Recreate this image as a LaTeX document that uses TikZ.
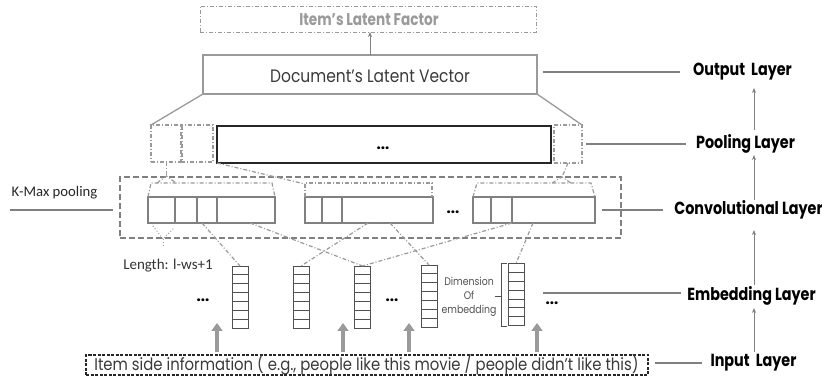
\documentclass[tikz,border=0pt]{standalone}
\usepackage{fontspec}
\setmainfont{Poppins}
\newfontfamily\calib{Carlito}
\usetikzlibrary{arrows.meta,calc}
\definecolor{lgray}{HTML}{9A9A9A}
\definecolor{mgray}{HTML}{808080}
\definecolor{dgray}{HTML}{505050}
\definecolor{tgray}{HTML}{3A3A3A}
\tikzset{
  box/.style={draw, inner sep=0pt, outer sep=0pt},
  dashdot/.style={draw=lgray, line width=1.2pt, dash pattern=on 4pt off 2pt on 1pt off 2pt},
  convline/.style={draw=mgray, line width=1.1pt},
  layerlab/.style={font=\bfseries\fontsize{17.5}{17.5}\selectfont, text=black, inner sep=1pt},
  lline/.style={draw=mgray, line width=1.3pt},
  vup/.style={draw=mgray, line width=1pt, -{Stealth[length=5pt,width=4pt]}},
  fatup/.style={draw=lgray, line width=4.5pt, -{Triangle[length=8pt,width=11pt]}},
  embcol/.style={box, draw=dgray, line width=0.8pt, minimum width=16pt, minimum height=62pt},
  dotsq/.style={font=\bfseries\fontsize{15}{15}\selectfont, inner sep=0pt},
}
\newcommand{\sq}[2]{\scalebox{#1}[1]{#2}}
\begin{document}
\begin{tikzpicture}[x=1pt,y=-1pt]
\useasboundingbox (0,0) rectangle (822,379);

% top boxes
\node[box, draw=lgray, line width=0.9pt, dash pattern=on 4pt off 2pt on 1pt off 2pt,
      minimum width=336pt, minimum height=26pt] (item) at (368,19) {};
\node[font=\bfseries\fontsize{17}{17}\selectfont, text=lgray] (itemt) at (369,20) {\sq{0.8}{Item's Latent Factor}};
\node[box, draw=lgray, line width=1.6pt, minimum width=334pt, minimum height=39pt] (doc) at (370,74.5) {};
\node[font=\fontsize{18}{18}\selectfont, text=tgray] (doct) at (370,76) {\sq{0.86}{Document's Latent Vector}};
\draw[vup] (doc.north) -- (doc.north |- item.south);

% pooling layer
\node[box, dashdot, minimum width=31pt, minimum height=37pt] (pA) at (166.5,143.5) {};
\node[box, dashdot, minimum width=32pt, minimum height=37pt] (pB) at (197,143.5) {};
\node[box, draw=black!85, line width=2pt, minimum width=334pt, minimum height=37pt] (bb) at (384,144.5) {};
\node[dotsq] (bbd) at (383,148) {...};
\node[box, dashdot, minimum width=28pt, minimum height=38pt] (pC) at (568,144) {};
\draw[lline, draw=lgray] (doc.south west) -- (pA.north west);
\draw[lline, draw=lgray] (doc.south east) -- (pC.north east);

% convolutional layer
\node[box, draw=mgray, line width=1.6pt, dash pattern=on 6pt off 3pt,
      minimum width=501pt, minimum height=61pt] (conv) at (370.5,207.5) {};
\node[box, convline, minimum width=127pt, minimum height=26pt] (fm1) at (211.5,210) {};
\node[box, convline, minimum width=128pt, minimum height=26pt] (fm2) at (369,210) {};
\node[box, convline, minimum width=122pt, minimum height=26pt] (fm3) at (534,210) {};
\foreach \x in {175,197,217} \draw[convline] (\x,197) -- (\x,223);
\foreach \x in {322,342} \draw[convline] (\x,197) -- (\x,223);
\foreach \x in {491,512} \draw[convline] (\x,197) -- (\x,223);
\node[dotsq] (cd) at (453,212) {...};

% pooling brackets
\draw[dashdot] (fm1.north west) -- (151,183) -- (272,183) -- (fm1.north east);
\draw[dashdot] (pA.south) -- (166.5,176);
\draw[dashdot] (157,183) -- (166.5,176) -- (176,183);
\draw[dashdot] (fm2.north west) -- (305,183) -- (432,183) -- (432,197);
\draw[dashdot] (bb.south west) -- (305,184);
\draw[dashdot] (fm3.north west) -- (477,183) -- (591,183) -- (fm3.north east);
\draw[dashdot] (pC.south) -- (562,177);
\draw[dashdot] (552,183) -- (562,177) -- (571,183);

% embedding columns
\foreach \n/\x/\y in {e1/240/297, e2/301/297, e3/362.5/297, e4/429/296, e5/516/294.5}{
  \node[embcol] (\n) at (\x,\y) {};
  \foreach \k in {1,...,6} \draw[draw=dgray, line width=0.8pt] ($(\n.north west)!\k/7!(\n.south west)$) -- ($(\n.north east)!\k/7!(\n.south east)$);
}
\draw[draw=dgray, line width=0.9pt] (507,263) -- (501,263) -- (501,326) -- (507,326);
\draw[draw=dgray, line width=0.9pt] (501,296) -- (495,296);
\node[font=\fontsize{11}{14}\selectfont, text=dgray, align=center, inner sep=0pt] (dimt) at (469,297) {\sq{0.85}{Dimension}\\\sq{0.85}{Of}\\\sq{0.85}{embedding}};

% convolution windows
\coordinate (s1) at (202,223);
\coordinate (s2) at (250,223);
\coordinate (s3) at (368,223);
\coordinate (s4) at (390,223);
\coordinate (s5) at (512,223);
\coordinate (s6) at (533,223);
\draw[dashdot] (s1) -- (e1.north);
\draw[dashdot] (s2) -- (e3.north);
\draw[dashdot] (s3) -- (e2.north);
\draw[dashdot] (s4) -- (e4.north);
\draw[dashdot] (s5) -- (e3.north);
\draw[dashdot] (s6) -- (e5.north);

% dots in embedding layer
\node[dotsq] (ed1) at (203,300) {...};
\node[dotsq] (ed2) at (392,300) {...};
\node[dotsq] (ed3) at (552,303) {...};

% side texts
\node[font=\calib\fontsize{14.7}{14.7}\selectfont, text=black!85] (kmax) at (54.5,193) {K-Max pooling};
\draw[lline] (10,210) -- (113,210);
\node[font=\calib\fontsize{15}{15}\selectfont, text=black!80] (len) at (168,266) {Length: l-ws+1};
\draw[draw=lgray, line width=1pt, dotted] (153,226) -- (163,239) -- (174,228);
\draw[draw=lgray, line width=1pt, dotted] (163,239) -- (163,248);

% input
\node[box, draw=black!85, line width=1.1pt, dash pattern=on 3pt off 1.5pt,
      minimum width=562pt, minimum height=20pt] (inp) at (367,365) {};
\node[font=\fontsize{17}{17}\selectfont, text=tgray] (inpt) at (366.5,364.5) {\sq{0.875}{Item side information ( e.g., people like this movie / people didn't like this)}};
\foreach \x in {217,343,409,537} \draw[fatup] (\x,352) -- (\x,323);

% layer labels
\node[layerlab] (lOut) at (742.5,72) {\sq{0.82}{Output\ \ Layer}};
\node[layerlab] (lPool) at (745.5,144) {\sq{0.82}{Pooling Layer}};
\node[layerlab] (lConv) at (748.5,210) {\sq{0.82}{Convolutional Layer}};
\node[layerlab] (lEmb) at (751.5,296) {\sq{0.82}{Embedding Layer}};
\node[layerlab] (lIn) at (753.5,363) {\sq{0.82}{Input\ \ Layer}};
\draw[lline] ([xshift=6pt]doc.east |- lOut.west) -- ([xshift=-12pt]lOut.west);
\draw[lline] ([xshift=4pt]pC.east |- lPool.west) -- ([xshift=-9pt]lPool.west);
\draw[lline] ([xshift=7pt]fm3.east |- lConv.west) -- ([xshift=-10pt]lConv.west);
\coordinate (embL) at (543,293);
\draw[lline] (embL) -- ([xshift=-5pt]embL -| lEmb.west);
\draw[lline] ([xshift=7pt]inp.east |- lIn.west) -- ([xshift=-7pt]lIn.west);
\coordinate (a1) at (754,352); \coordinate (a2) at (754,308);
\coordinate (a3) at (754,285); \coordinate (a4) at (754,230);
\coordinate (a5) at (754,200); \coordinate (a6) at (754,155);
\coordinate (a7) at (754,130); \coordinate (a8) at (754,88);
\draw[vup] (a1) -- (a2);
\draw[vup] (a3) -- (a4);
\draw[vup] (a5) -- (a6);
\draw[vup] (a7) -- (a8);
\end{tikzpicture}
\end{document}
